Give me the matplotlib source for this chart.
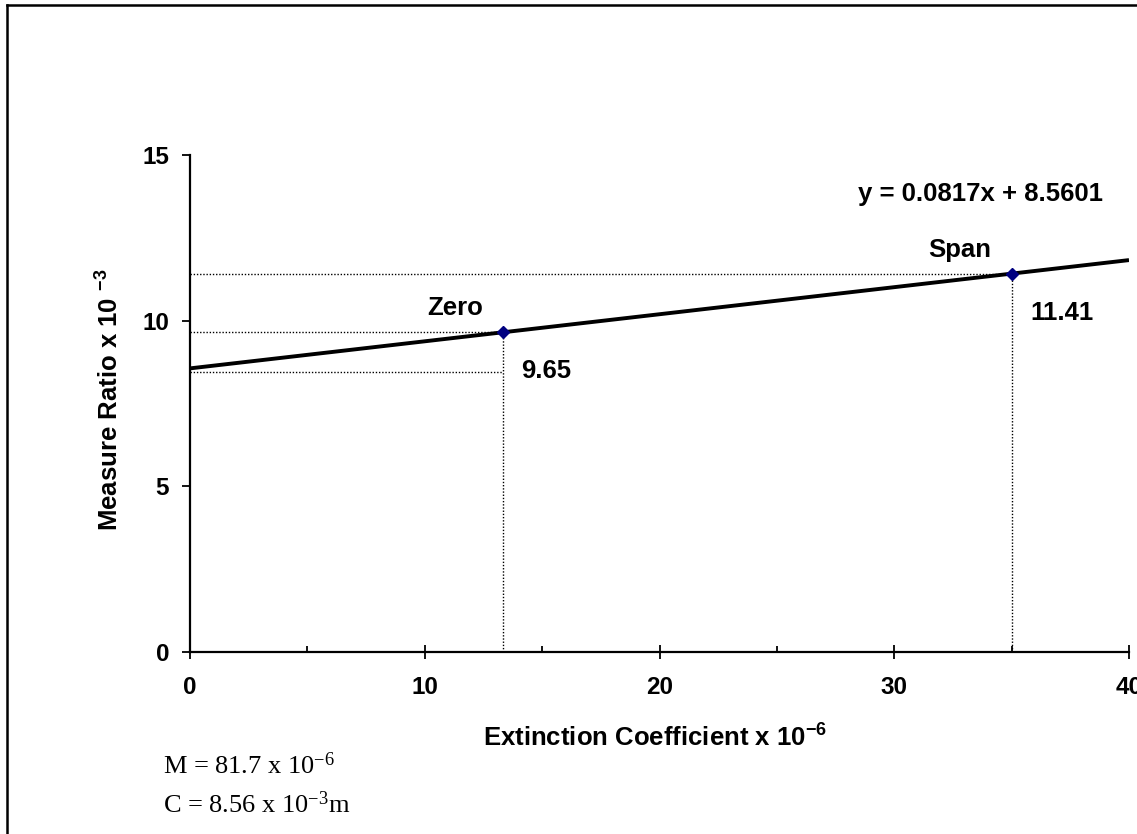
import matplotlib
matplotlib.use("Agg")
import matplotlib.pyplot as plt
from matplotlib.lines import Line2D

# Data
slope = 0.0817
intercept = 8.5601
point_names = ["Zero", "Span"]
point_x = [13.34, 35.0]
point_y = [9.65, 11.41]
extra_level_y = 8.44          # lower dotted guide under the Zero point
x_ticks = [0, 10, 20, 30, 40]
x_minor = [5, 15, 25, 35]
y_ticks = [0, 5, 10, 15]

plt.rcParams['font.family'] = ['Liberation Sans', 'DejaVu Sans']
plt.rcParams['font.weight'] = 'bold'
plt.rcParams['mathtext.fontset'] = 'custom'
plt.rcParams['mathtext.rm'] = 'Liberation Serif:regular'
plt.rcParams['mathtext.bf'] = 'Liberation Sans:bold'

W, H = 1137, 834
fig = plt.figure(figsize=(W / 100, H / 100), dpi=100)
ax = fig.add_axes([190 / W, 1 - 652 / H, 939 / W, 497 / H])

ax.set_xlim(0, 40)
ax.set_ylim(0, 15)

# dotted guide lines
dot = (0, (1, 1.3))
for px, py in zip(point_x, point_y):
    ax.plot([0, px], [py, py], color='black', lw=1.0, ls=dot)
    ax.plot([px, px], [0, py], color='black', lw=1.0, ls=dot)
ax.plot([0, point_x[0]], [extra_level_y, extra_level_y], color='black', lw=1.0, ls=dot)

# fit line
fit_x = [0, 40]
fit_y = [slope * v + intercept for v in fit_x]
ax.plot(fit_x, fit_y, color='black', lw=2.8, solid_capstyle='butt')

# points
ax.plot(point_x, point_y, ls='none', marker='D', ms=6.5, mfc='#000080', mec='#000080')

# annotations
ax.text(11.29, 10.17, point_names[0], ha='center', va='baseline', fontsize=18.5, fontweight='bold')
ax.text(15.17, 8.27, f"{point_y[0]:.2f}", ha='center', va='baseline', fontsize=18.5, fontweight='bold')
ax.text(32.78, 11.92, point_names[1], ha='center', va='baseline', fontsize=18.5, fontweight='bold')
ax.text(37.15, 10.02, f"{point_y[1]:.2f}", ha='center', va='baseline', fontsize=18.5, fontweight='bold')
ax.text(33.67, 13.61, f"y = {slope:.4f}x + {intercept:.4f}", ha='center', va='baseline',
        fontsize=18.5, fontweight='bold')

# axes styling
for s in ['top', 'right']:
    ax.spines[s].set_visible(False)
for s in ['left', 'bottom']:
    ax.spines[s].set_linewidth(1.6)

ax.set_xticks(x_ticks)
ax.set_xticks(x_minor, minor=True)
ax.set_yticks(y_ticks)
ax.tick_params(axis='x', which='major', direction='inout', length=10, width=1.3,
               pad=12, labelsize=17.5)
ax.tick_params(axis='x', which='minor', direction='in', length=4, width=1.3)
ax.tick_params(axis='y', which='major', direction='out', length=6, width=1.3,
               pad=9, labelsize=17.5)
for lab in ax.get_xticklabels() + ax.get_yticklabels():
    lab.set_fontweight('bold')

# axis titles
fig.text(655 / W, 1 - 738 / H, r"Extinction Coefficient x $\mathbf{10^{-6}}$",
         ha='center', va='center', fontsize=18.5, fontweight='bold')
fig.text(110 / W, 1 - 400 / H, r"Measure Ratio x 10 $\mathbf{^{-3}}$",
         ha='center', va='center', rotation=90, fontsize=18.5, fontweight='bold')

# notes under the chart
fig.text(163 / W, 1 - 774 / H, r"M = 81.7 x 10$\mathrm{^{-6}}$", ha='left', va='baseline',
         fontsize=19, family='Liberation Serif', fontweight='normal')
fig.text(163 / W, 1 - 813 / H, r"C = 8.56 x 10$\mathrm{^{-3}}$m", ha='left', va='baseline',
         fontsize=19, family='Liberation Serif', fontweight='normal')

# chart frame (clipped at right and bottom)
x0 = 7 / W
y1 = 1 - 5 / H
fig.add_artist(Line2D([x0, x0], [-0.01, y1], transform=fig.transFigure, color='black', lw=1.8))
fig.add_artist(Line2D([x0, 1.01], [y1, y1], transform=fig.transFigure, color='black', lw=1.8))

fig.savefig("out.png", dpi=100)
